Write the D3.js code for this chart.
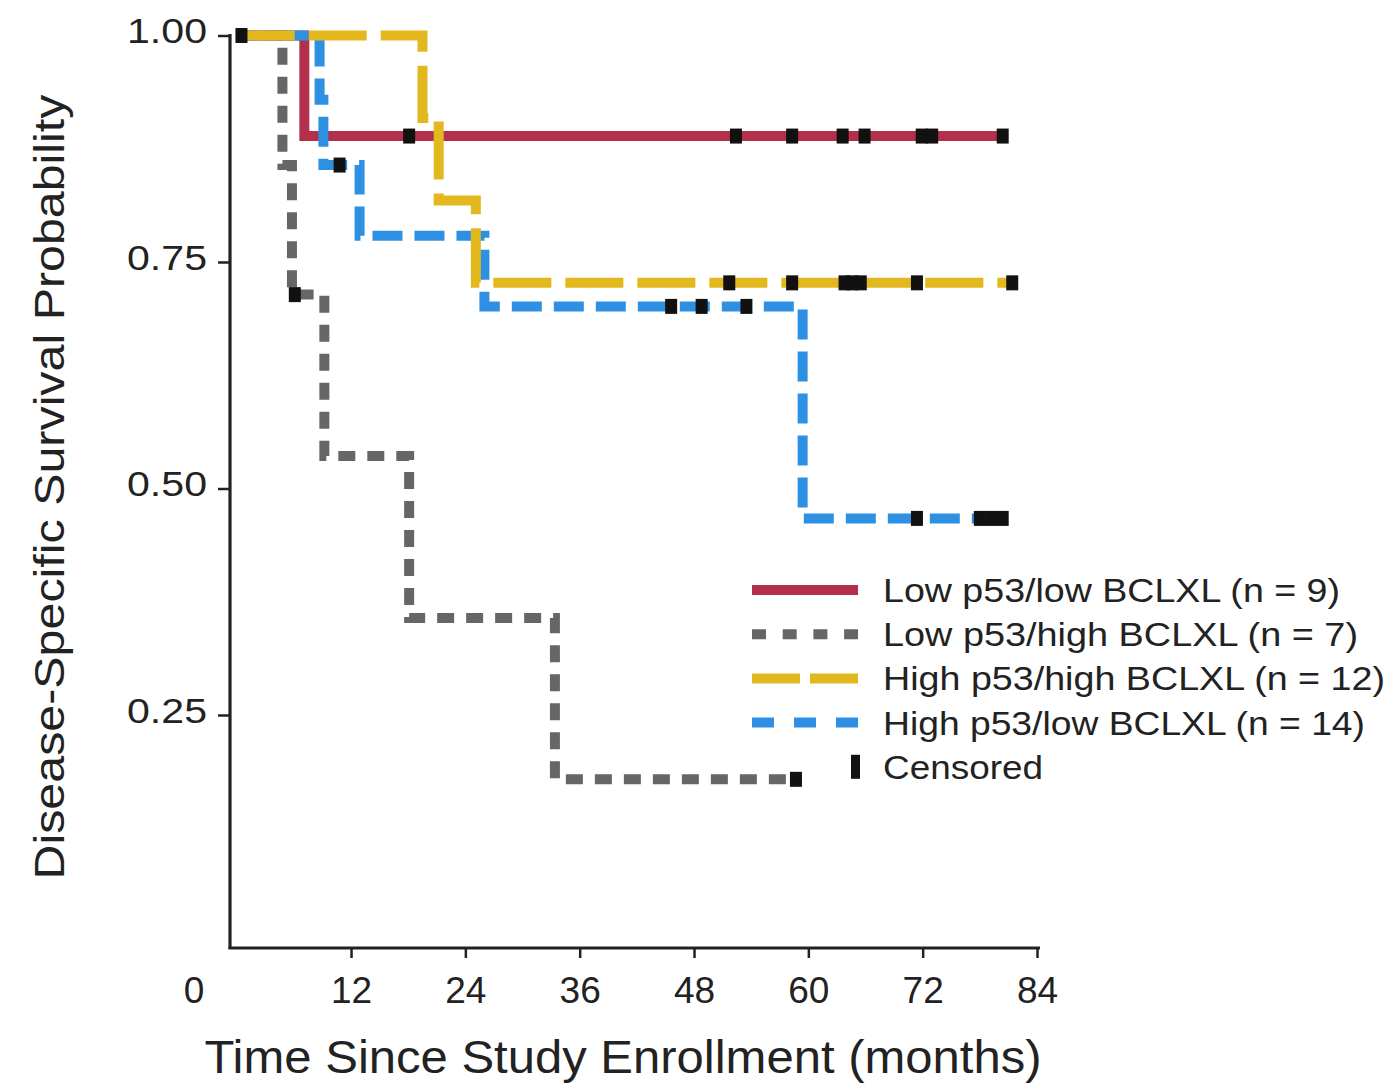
<!DOCTYPE html>
<html>
<head>
<meta charset="utf-8">
<script src="https://cdn.jsdelivr.net/npm/d3@7"></script>
<style>
  html, body { margin: 0; padding: 0; background: #ffffff; }
  svg { display: block; }
  text { font-family: "Liberation Sans", Arial, Helvetica, sans-serif; fill: #222; }
</style>
</head>
<body>
<svg id="chart" width="1393" height="1091"></svg>
<script>
// ---- Data ----
const groupNames = [
  "Low p53/low BCLXL (n = 9)",
  "Low p53/high BCLXL (n = 7)",
  "High p53/high BCLXL (n = 12)",
  "High p53/low BCLXL (n = 14)"
];
// Kaplan-Meier step points: event times (months) and survival after each step
const redTimes    = [0, 7.1];
const redSurv     = [1.0, 0.889];
const redEnd      = 80.4;
const redCensor   = [18.1, 52.4, 58.3, 63.6, 65.9, 71.9, 73.0, 80.4];

const grayTimes   = [0, 4.8, 5.8, 9.2, 18.1, 33.4];
const graySurv    = [1.0, 0.857, 0.714, 0.536, 0.357, 0.179];
const grayEnd     = 58.7;
const grayCensor  = [6.1, 58.7];

const yellowTimes  = [0, 19.5, 21.2, 25.1];
const yellowSurv   = [1.0, 0.909, 0.818, 0.727];
const yellowEnd    = 81.4;
const yellowCensor = [0.5, 51.7, 58.3, 63.8, 64.6, 65.5, 71.4, 81.4];

const blueTimes   = [0, 8.7, 9.1, 12.9, 26.0, 59.4];
const blueSurv    = [1.0, 0.929, 0.857, 0.779, 0.701, 0.467];
const blueEnd     = 80.6;
const blueCensor  = [10.8, 45.6, 48.8, 53.5, 71.4, 78.0, 79.2, 80.4];

const xTicks = [12, 24, 36, 48, 60, 72, 84];
const yTicks = [0.25, 0.50, 0.75, 1.00];
const xTitle = "Time Since Study Enrollment (months)";
const yTitle = "Disease-Specific Survival Probability";
const censorLabel = "Censored";

// ---- Styling ----
const colors = { red: "#b3304c", gray: "#666666", yellow: "#e3b81e", blue: "#2d90e3" };

const svg = d3.select("#chart");
const x = d3.scaleLinear().domain([0, 84]).range([236.7, 1037]);
const y = d3.scaleLinear().domain([0, 1]).range([941.5, 35.5]);

// axes lines
svg.append("line").attr("x1", 230).attr("x2", 230).attr("y1", 34).attr("y2", 949)
  .attr("stroke", "#222").attr("stroke-width", 3.2);
svg.append("line").attr("x1", 228.5).attr("x2", 1040).attr("y1", 948).attr("y2", 948)
  .attr("stroke", "#222").attr("stroke-width", 3.2);

const yAxis = d3.axisLeft(y).tickValues(yTicks).tickSize(12).tickPadding(11)
  .tickFormat(d3.format(".2f"));
const gy = svg.append("g").attr("transform", "translate(230,0)").call(yAxis);
gy.select(".domain").remove();
gy.selectAll(".tick line").attr("stroke", "#222").attr("stroke-width", 2.5);
gy.selectAll(".tick text").attr("font-size", 35).attr("fill", "#222")
  .attr("textLength", 80).attr("lengthAdjust", "spacingAndGlyphs").attr("dy", "0.2em");

const xAxis = d3.axisBottom(x).tickValues(xTicks).tickSize(10).tickPadding(19);
const gx = svg.append("g").attr("transform", "translate(0,948)").call(xAxis);
gx.select(".domain").remove();
gx.selectAll(".tick line").attr("stroke", "#222").attr("stroke-width", 2.5);
gx.selectAll(".tick text").attr("font-size", 37).attr("fill", "#222");
// origin label
svg.append("text").attr("x", 194).attr("y", 1003).attr("text-anchor", "middle")
  .attr("font-size", 37).text("0");

// titles
svg.append("text").attr("x", 623).attr("y", 1073).attr("text-anchor", "middle")
  .attr("font-size", 46).attr("textLength", 837).attr("lengthAdjust", "spacingAndGlyphs")
  .text(xTitle);
svg.append("text").attr("transform", "translate(64,487) rotate(-90)").attr("text-anchor", "middle")
  .attr("font-size", 42).attr("textLength", 785).attr("lengthAdjust", "spacingAndGlyphs")
  .text(yTitle);

// curves
function pts(times, surv, end) {
  const p = times.map((t, i) => [t, surv[i]]);
  p.push([end, surv[surv.length - 1]]);
  return p;
}
function survAt(times, surv, t) {
  let v = surv[0];
  for (let i = 0; i < times.length; i++) if (times[i] <= t) v = surv[i];
  return v;
}
const line = d3.line().x(d => x(d[0])).y(d => y(d[1])).curve(d3.curveStepAfter);

const series = [
  { key: "gray",   times: grayTimes,   surv: graySurv,   end: grayEnd,   censor: grayCensor,   dash: "17,12" },
  { key: "red",    times: redTimes,    surv: redSurv,    end: redEnd,    censor: redCensor,    dash: null },
  { key: "blue",   times: blueTimes,   surv: blueSurv,   end: blueEnd,   censor: blueCensor,   dash: "30,12" },
  { key: "yellow", times: yellowTimes, surv: yellowSurv, end: yellowEnd, censor: yellowCensor, dash: "58,14" }
];

series.forEach(s => {
  svg.append("path").datum(pts(s.times, s.surv, s.end))
    .attr("d", line).attr("fill", "none")
    .attr("stroke", colors[s.key]).attr("stroke-width", 10)
    .attr("stroke-dasharray", s.dash).attr("stroke-linejoin", "miter");
});
series.forEach(s => {
  svg.selectAll(null).data(s.censor).enter().append("rect")
    .attr("x", d => x(d) - 6).attr("y", d => y(survAt(s.times, s.surv, d)) - 7.5)
    .attr("width", 12).attr("height", 15).attr("fill", "#111");
});

// legend
const legendOrder = ["red", "gray", "yellow", "blue"];
const legendDash = { red: null, gray: "14,16.7", yellow: "48,10", blue: "22,20" };
const lx0 = 752, lx1 = 858, tx = 883, ly0 = 590, lstep = 44.2;
const legendWidths = [457, 475, 502, 482];
legendOrder.forEach((k, i) => {
  const yy = ly0 + i * lstep;
  svg.append("line").attr("x1", lx0).attr("x2", lx1).attr("y1", yy).attr("y2", yy)
    .attr("stroke", colors[k]).attr("stroke-width", 10).attr("stroke-dasharray", legendDash[k]);
  svg.append("text").attr("x", tx).attr("y", yy + 12).attr("font-size", 33)
    .attr("textLength", legendWidths[i]).attr("lengthAdjust", "spacingAndGlyphs")
    .text(groupNames[i]);
});
const cy = ly0 + 4 * lstep;
svg.append("rect").attr("x", 851).attr("y", cy - 12).attr("width", 9).attr("height", 24).attr("fill", "#111");
svg.append("text").attr("x", tx).attr("y", cy + 12).attr("font-size", 33)
  .attr("textLength", 160).attr("lengthAdjust", "spacingAndGlyphs").text(censorLabel);
</script>
</body>
</html>
